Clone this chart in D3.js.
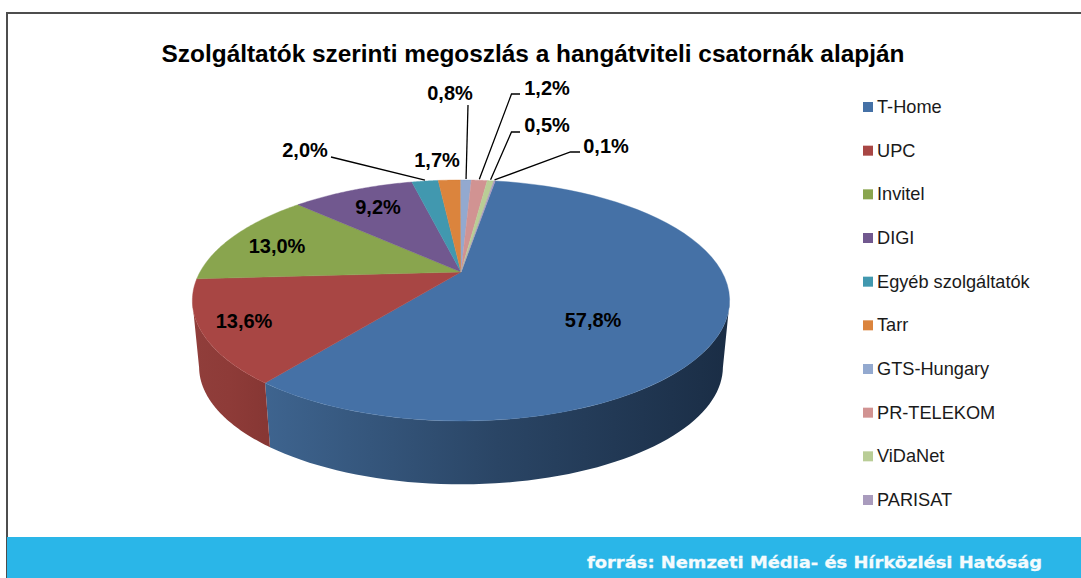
<!DOCTYPE html>
<html lang="hu">
<head>
  <meta charset="utf-8">
  <title>Szolgáltatók szerinti megoszlás</title>
  <script src="https://d3js.org/d3.v7.min.js"></script>
  <style>
    html, body { margin: 0; padding: 0; background: #fff; overflow: hidden; }
    svg { display: block; font-family: "Liberation Sans", Arial, sans-serif; }
    .title { font-size: 24.4px; font-weight: bold; text-anchor: middle; fill: #000; }
    .value { font-size: 20px; font-weight: bold; text-anchor: middle; fill: #000; }
    .leader { fill: none; stroke: #000; stroke-width: 1.3; }
    .legend text { font-size: 18.2px; fill: #1a1a1a; }
    .source { font-family: "DejaVu Sans", sans-serif; font-size: 16.5px; font-weight: bold; fill: #f4fbfd; stroke: #f4fbfd; stroke-width: 0.3; }
  </style>
</head>
<body>
  <svg id="chart" width="1081" height="578"></svg>

  <script>
    const titleText = 'Szolgáltatók szerinti megoszlás a hangátviteli csatornák alapján';
    const sourceText = 'forrás: Nemzeti Média- és Hírközlési Hatóság';
    const providers = ['T-Home', 'UPC', 'Invitel', 'DIGI', 'Egyéb szolgáltatók', 'Tarr', 'GTS-Hungary', 'PR-TELEKOM', 'ViDaNet', 'PARISAT'];
    const shares = [57.8, 13.6, 13.0, 9.2, 2.0, 1.7, 0.8, 1.2, 0.5, 0.1];
    const colors = ['#4571a6', '#a84644', '#89a54e', '#71588f', '#4198af', '#db843d', '#93a9cf', '#d19392', '#b9cd96', '#a99bbd'];

    const svg = d3.select('#chart');
    const defs = svg.append('defs');

    // frame and title
    svg.append('path').attr('d', 'M7,578V13H1081').attr('fill', 'none').attr('stroke', '#4d4d4d').attr('stroke-width', 2);
    svg.append('text').attr('class', 'title').attr('x', 533).attr('y', 62).text(titleText);

    // pie geometry: a circle pushed through a perspective projection
    const cx = 461, cy = 272, rx = 261, ry = 113.8, persp = 0.2365;
    const depthY = 67, depthScale = 0.975;
    function project(a) {
      const u = Math.sin(a), v = -Math.cos(a), w = 1 - persp * v;
      return [rx * u / w, ry * v / w];
    }
    const topPt = a => { const p = project(a); return [cx + p[0], cy + p[1]]; };
    const bottomPt = a => { const p = project(a); return [cx + depthScale * p[0], cy + depthY + depthScale * p[1]]; };

    const rad = d => d * Math.PI / 180;
    const arcs = d3.pie().sort(null).value(d => d).startAngle(rad(9.3)).endAngle(rad(369.3))(shares);
    const color = d3.scaleOrdinal().domain(providers).range(colors);
    const line = d3.line();
    const samples = (a0, a1) => d3.range(0, 61).map(i => a0 + (a1 - a0) * i / 60);

    // side wall, only the part facing the viewer (silhouette at about 104 and 256 degrees)
    const sideStops = [
      ['#3e648f', '#2a4565', '#1a2d45'],
      ['#903e3b', '#8e3b38', '#873734']
    ];
    arcs.slice(0, 2).forEach((d, i) => {
      const a0 = Math.max(d.startAngle, rad(104)), a1 = Math.min(d.endAngle, rad(256));
      const pts = samples(a0, a1);
      const xs = pts.map(a => topPt(a)[0]);
      const g = defs.append('linearGradient').attr('id', 'side' + i)
        .attr('gradientUnits', 'userSpaceOnUse')
        .attr('x1', d3.min(xs)).attr('x2', d3.max(xs)).attr('y1', 0).attr('y2', 0);
      sideStops[i].forEach((c, j) => g.append('stop').attr('offset', j / 2).attr('stop-color', c));
      svg.append('path')
        .attr('d', line(pts.map(topPt).concat(pts.slice().reverse().map(bottomPt))) + 'Z')
        .attr('fill', `url(#side${i})`);
    });

    // top face
    svg.append('g').selectAll('path').data(arcs).enter().append('path')
      .attr('d', d => line([[cx, cy]].concat(samples(d.startAngle, d.endAngle).map(topPt))) + 'Z')
      .attr('fill', (d, i) => colors[i])
      .attr('stroke', (d, i) => colors[i])
      .attr('stroke-width', 0.4);

    // value labels; elbow is where the leader bends before reaching the text
    const labelPos = [
      { x: 593, y: 320 },
      { x: 244, y: 321 },
      { x: 277, y: 246 },
      { x: 378, y: 207 },
      { x: 305, y: 150, elbow: [331, 157] },
      { x: 437, y: 160 },
      { x: 450, y: 93, elbow: [468, 105] },
      { x: 547, y: 88, elbow: [511.5, 94], tail: 520 },
      { x: 547, y: 125, elbow: [511.5, 132], tail: 520 },
      { x: 606, y: 146, elbow: [570.5, 152], tail: 580 }
    ];
    arcs.forEach((d, i) => {
      const pos = labelPos[i];
      if (pos.elbow) {
        const mid = topPt((d.startAngle + d.endAngle) / 2);
        const leader = [[mid[0], mid[1] - 1], pos.elbow];
        if (pos.tail) leader.push([pos.tail, pos.elbow[1]]);
        svg.append('path').attr('class', 'leader').attr('d', line(leader));
      }
      svg.append('text').attr('class', 'value').attr('x', pos.x).attr('y', pos.y + 7)
        .text(d3.format('.1f')(shares[i]).replace('.', ',') + '%');
    });

    // legend
    const legendY = d3.scalePoint().domain(providers).range([107, 500]);
    const legend = svg.append('g').attr('class', 'legend').selectAll('g').data(providers).enter().append('g')
      .attr('transform', d => `translate(863,${legendY(d)})`);
    legend.append('rect').attr('y', -5).attr('width', 10).attr('height', 10).attr('fill', d => color(d));
    legend.append('text').attr('x', 14).attr('y', 6).text(d => d);

    // source band
    svg.append('rect').attr('x', 7).attr('y', 537).attr('width', 1074).attr('height', 41).attr('fill', '#2ab6e8');
    svg.append('text').attr('class', 'source').attr('x', 587).attr('y', 568)
      .attr('textLength', 455).attr('lengthAdjust', 'spacingAndGlyphs').text(sourceText);
  </script>
</body>
</html>
